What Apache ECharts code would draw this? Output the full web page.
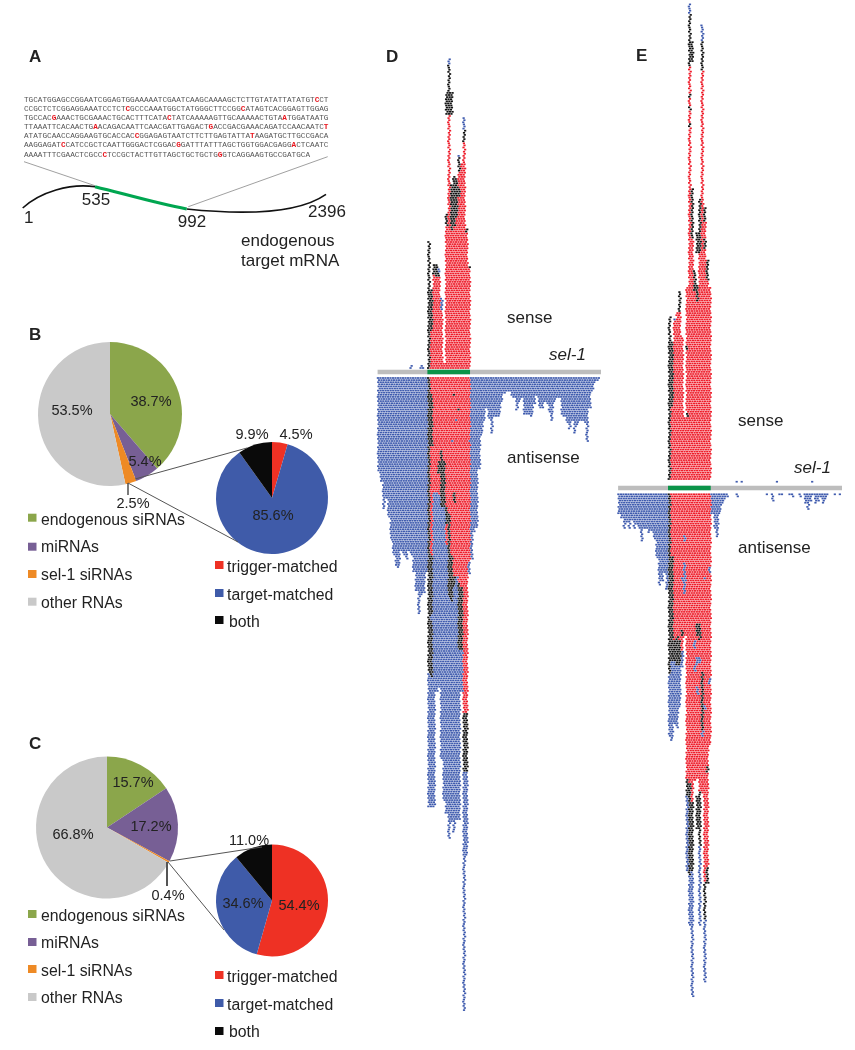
<!DOCTYPE html>
<html><head><meta charset="utf-8">
<style>html,body{margin:0;padding:0;background:#fff}#c{width:855px;height:1050px}</style>
<script src="https://cdn.jsdelivr.net/npm/echarts@6/dist/echarts.min.js"></script>
</head><body><div id="c"></div>
<script>
// ---------- pies ----------
const rnaNames = ['endogenous siRNAs','miRNAs','sel-1 siRNAs','other RNAs'];
const siNames = ['trigger-matched','target-matched','both'];
const bMain = [38.7,5.4,2.5,53.5];
const bSub = [4.5,85.6,9.9];
const cMain = [15.7,17.2,0.4,66.8];
const cSub = [54.4,34.6,11.0];
const rnaColors = ['#8BA64B','#775F95','#EE8A25','#C9C9C9'];
const siColors = ['#EE3124','#3F5BA9','#0A0A0A'];
// ---------- panel A ----------
const seqLines = [
'TGCATGGAGCCGGAATCGGAGTGGAAAAATCGAATCAAGCAAAAGCTCTTGTATATTATATGT[C]CT',
'CCGCTCTCGGAGGAAATCCTCT[C]GCCCAAATGGCTATGGGCTTCCGG[C]ATAGTCACGGAGTTGGAG',
'TGCCAC[G]AAACTGCGAAACTGCACTTTCATA[C]TATCAAAAAGTTGCAAAAACTGTA[A]TGGATAATG',
'TTAAATTCACAACTG[A]ACAGACAATTCAACGATTGAGACT[G]ACCGACGAAACAGATCCAACAATC[T]',
'ATATGCAACCAGGAAGTGCACCAC[C]GGAGAGTAATCTTCTTGAGTATTA[T]AAGATGCTTGCCGACA',
'AAGGAGAT[C]CATCCGCTCAATTGGGACTCGGAC[G]GATTTATTTAGCTGGTGGACGAGG[A]CTCAATC',
'AAAATTTCGAACTCGCC[C]TCCGCTACTTGTTAGCTGCTGCTG[G]GTCAGGAAGTGCCGATGCA'];
const seqY = [100,109,118,127.3,136.3,145.3,155];
// ---------- read stacks: column index, then (kind,count) runs outward from the gene bar ----------
// kind: 0 trigger (red), 1 both (black), 2 target (blue), 3 empty gap
const geneLength = 2396, targetStart = 535, targetEnd = 992, columnCount = 89;
const dSense = [
[13,2,2],[17,2,2],[18,2,1],[20,1,61],[21,0,18,1,20],[22,0,45,1,5],[23,0,44,1,6],[24,0,44,1,2,2,2],[25,0,28,2,6],[26,0,3],
[27,0,68,1,6,3,47,1,11],[28,0,121,1,24,2,3],[29,0,66,1,22,3,33,1,11],[30,0,68,1,24],[31,0,72,1,19],[32,0,82,1,4,0,8,1,7,2,1],
[33,0,98],[34,0,108,1,6,2,6],[35,0,65,1,2],[36,0,48,1,1]];
const dAntiLeft = [45,50,63,58,67,78,85,90,91,83,85,87,83,85,93,102,113,104,103,93];
const dAntiCentre = [
[20,1,141,2,64],[21,0,8,1,25,0,52,1,28,2,3,1,27,2,62],[22,0,55,2,150],[23,0,55,2,95],[24,0,40,1,6,0,10,2,92],
[25,0,35,1,27,2,120],[26,0,40,1,22,2,140],[27,0,62,1,8,0,10,2,128],[28,0,65,1,40,2,115],[29,0,30,2,1,0,54,1,22,2,105],
[30,0,8,1,1,0,46,1,5,0,35,1,5,2,117],[31,0,20,2,1,0,74,2,116],[32,0,15,1,1,0,82,1,32,2,81],[33,0,100,1,30,2,20],
[34,0,160,1,28,2,114],[35,0,160,1,28,2,40],[36,0,30,2,1,0,57,2,6]];
const dAntiRight = [87,74,72,44,28,21,15,20,27,19,19,19,12,8,7,7,9,10,16,12,10,18,18,18,19,13,9,15,15,12,13,17,21,12,10,10,18,19,22,25,21,27,23,21,21,22,31,15,7,3,2,1];
const eSense = [
[20,1,78],[21,0,35,1,31],[22,0,76,2,1],[23,0,80],[24,0,80,1,10],[25,0,68],[26,0,30],[27,0,30,1,2,0,30,1,2,0,28],
[28,0,168,1,2,0,6,1,2,0,4,1,2,0,13,1,25,2,5],[29,0,115,1,24,3,60,1,10],[30,0,90,1,10],[31,0,85,1,8,3,15,1,10],
[32,0,108,1,26],[33,0,195,1,14,2,8],[34,0,110,1,5,0,8,1,7],[35,0,95,1,10],[36,0,92]];
const eSenseLoose = [47,49,63,77];
const eAntiLeft = [10,12,17,14,17,13,17,15,17,23,17,17,19,18,22,31,44,42,38,46];
const eAntiCentre = [
[20,1,86,2,30],[21,0,30,1,50,2,38],[22,0,70,1,10,2,30],[23,0,68,1,14,2,30],[24,0,70,1,12,2,20],[25,0,40,2,2,0,23,1,3,0,7,2,8],
[26,0,20,2,3,0,10,2,15,0,20],[27,0,136,1,8,2,36],[28,0,138,1,44,2,24],[29,0,147,1,33,2,60],[30,0,70,2,4,0,8,2,3,0,52],
[31,0,62,1,6,0,10,2,4,0,10,2,4,0,40,3,8,1,16],[32,0,62,1,8,0,8,2,3,0,9,0,52,1,26,2,38],[33,0,85,1,28,2,3,0,27],[34,0,40,2,1,0,60,2,2,0,82,1,18,2,30],
[35,0,130,1,3,0,45,1,8],[36,0,35,2,3,0,50,2,3,0,29]];
const eAntiRight = [10,17,21,10,5,3,2,0,0,0,2,0,0,0,0,0,0,0,0,0,0,0,1,0,4,0,0,1,1,0,0,1,2,0,0,2,0,5,8,4,1,5,4,2,5,3,1,0,0,1,0,1];
const kindColors = ['#EE1C2A','#111111','#3F5BAE'];
const kindNames = ['trigger-matched','both','target-matched'];
const geneColors = ['#BDBDBD','#0B9449'];
const rowStagger = [0,0.45,0.15,0.6,0.3,0.75,0.1,0.5,0.25];

// layout constants (pixels)
const rowPitch = 2.1;
const panels = [
 {id:'D',left:377.5,width:223.5,barY:372,senseBase:368,antiBase:378,
  sense:dSense,loose:[],antiLeft:dAntiLeft,antiCentre:dAntiCentre,antiRight:dAntiRight},
 {id:'E',left:618,width:224,barY:488,senseBase:479,antiBase:494.3,
  sense:eSense,loose:eSenseLoose,antiLeft:eAntiLeft,antiCentre:eAntiCentre,antiRight:eAntiRight}];

function colX(c,row){const w=geneLength/columnCount;return (c+0.15+rowStagger[row%rowStagger.length])*w;}
function stack(list,base,dir,out){
  list.forEach(r=>{let row=0;
    for(let i=1;i<r.length;i+=2){
      for(let n=0;n<r[i+1];n++,row++){
        if(r[i]!==3) out[r[i]].push([colX(r[0],row),base+dir*row]);
      }
    }});
}
const series=[],grids=[],xAxes=[],yAxes=[];
panels.forEach((p,pi)=>{
  grids.push({left:p.left,width:p.width,top:0,height:1050});
  xAxes.push({type:'value',gridIndex:pi,min:0,max:geneLength,show:false});
  yAxes.push({type:'value',gridIndex:pi,min:-(1050-p.barY)/rowPitch,max:p.barY/rowPitch,show:false});
  const sBase=(p.barY-p.senseBase)/rowPitch, aBase=-(p.antiBase-p.barY)/rowPitch;
  const pts=[[],[],[]];
  stack(p.sense,sBase,1,pts);
  p.loose.forEach(c=>pts[2].push([colX(c,0),sBase-1.3]));
  stack(p.antiCentre,aBase,-1,pts);
  p.antiLeft.forEach((d,c)=>stack([[c,2,d]],aBase,-1,pts));
  p.antiRight.forEach((d,i)=>stack([[37+i,2,d]],aBase,-1,pts));
  pts.forEach((data,k)=>series.push({type:'scatter',name:p.id+' '+kindNames[k],xAxisIndex:pi,yAxisIndex:pi,data,
    symbol:'rect',symbolSize:[2.2,1.7],itemStyle:{color:kindColors[k],opacity:1},silent:true,animation:false,progressive:0,large:false,z:2}));
  series.push({type:'custom',name:p.id+' sel-1',xAxisIndex:pi,yAxisIndex:pi,silent:true,animation:false,z:1,progressive:0,
    data:[[1,geneLength],[targetStart,targetEnd]],
    encode:{x:[0,1]},
    renderItem:(params,api)=>{
      const a=api.coord([api.value(0),1.1]),b=api.coord([api.value(1),-1.1]);
      return {type:'rect',shape:{x:a[0],y:a[1],width:b[0]-a[0],height:b[1]-a[1]},style:{fill:geneColors[params.dataIndex]}};
    }});
});
function pie(name,vals,names,colors,cx,cy,r){
  series.push({type:'pie',name,center:[cx,cy],radius:[0,r],startAngle:90,clockwise:true,silent:true,animation:false,
    label:{show:false},labelLine:{show:false},z:1,
    data:vals.map((v,i)=>({name:names[i],value:v,itemStyle:{color:colors[i]}}))});
}
pie('B total',bMain,rnaNames,rnaColors,110,414,72);
pie('B sel-1',bSub,siNames,siColors,272,498,56);
pie('C total',cMain,rnaNames,rnaColors,107,827.5,71);
pie('C sel-1',cSub,siNames,siColors,272,900.5,56);

// ---------- graphics ----------
const FONT='"Liberation Sans",Arial,sans-serif';
const g=[];
function txt(text,x,y,size,o={}){
  g.push({type:'text',z:20,silent:true,x,y,style:{text,fill:o.fill||'#222',
    font:(o.style||'')+' '+(o.weight||'')+' '+size+'px '+FONT,
    textAlign:o.align||'left',textVerticalAlign:'middle'}});
}
function seg(x1,y1,x2,y2,color,w){g.push({type:'line',z:10,silent:true,shape:{x1,y1,x2,y2},style:{stroke:color,lineWidth:w}});}
function curve(x1,y1,cpx1,cpy1,cpx2,cpy2,x2,y2,color,w){
  g.push({type:'bezierCurve',z:10,silent:true,shape:{x1,y1,cpx1,cpy1,cpx2,cpy2,x2,y2},style:{stroke:color,lineWidth:w,fill:null}});}
function sq(x,y,c){g.push({type:'rect',z:10,silent:true,shape:{x,y:y-4,width:8.5,height:8},style:{fill:c}});}
// panel letters
[['A',29,57],['B',29,335],['C',29,744],['D',386,57],['E',636,56]].forEach(a=>txt(a[0],a[1],a[2],17,{weight:'bold'}));
// sequence
seqLines.forEach((l,i)=>{
  g.push({type:'text',z:20,silent:true,x:24,y:seqY[i],style:{
    text:l.replace(/\[(.)\]/g,'{r|$1}'),fill:'#555',font:'7.7px "Liberation Mono",monospace',textVerticalAlign:'middle',
    rich:{r:{fill:'#E8141C',font:'bold 7.7px "Liberation Mono",monospace'}}}});
});
seg(24,161.7,95,185.7,'#888',0.8);seg(327.7,156.7,188.3,206.7,'#888',0.8);
curve(22.7,208,40,192,70,183,95,186.7,'#111',1.6);
curve(186.7,209,235,214,295,216,326,194.3,'#111',1.6);
curve(95,186.7,125,194,155,203,186.7,209,'#00A650',3.2);
txt('1',24,218,17);txt('535',96,200,17,{align:'center'});txt('992',192,222,17,{align:'center'});txt('2396',327,212,17,{align:'center'});
txt('endogenous',241,241,17);txt('target mRNA',241,261,17);
// pie labels
const pct=v=>v.toFixed(1)+'%';
txt(pct(bMain[0]),151,402,14.5,{align:'center'});txt(pct(bMain[1]),145,462,14.5,{align:'center'});
txt(pct(bMain[2]),133,504,14.5,{align:'center'});txt(pct(bMain[3]),72,411,14.5,{align:'center'});
txt(pct(bSub[0]),296,435,14.5,{align:'center'});txt(pct(bSub[1]),273,516,14.5,{align:'center'});txt(pct(bSub[2]),252,435,14.5,{align:'center'});
txt(pct(cMain[0]),133,783,14.5,{align:'center'});txt(pct(cMain[1]),151,827,14.5,{align:'center'});
txt(pct(cMain[2]),168,896,14.5,{align:'center'});txt(pct(cMain[3]),73,835,14.5,{align:'center'});
txt(pct(cSub[0]),299,906,14.5,{align:'center'});txt(pct(cSub[1]),243,904,14.5,{align:'center'});txt(pct(cSub[2]),249,841,14.5,{align:'center'});
// connectors
seg(128,483,128,495,'#222',1.2);seg(135,479,247,448,'#555',1);seg(128,483,238,542,'#555',1);
seg(167,862,167,886,'#555',2);seg(170,861,262,847,'#555',1);seg(168,862,224,930,'#555',1);
// legends
const lgL=(sqY,tY)=>rnaNames.forEach((n,i)=>{sq(28,sqY[i],rnaColors[i]);txt(n,41,tY[i],15.8);});
lgL([517.7,546.7,574,601.7],[521,548,576,604]);
lgL([914,942,969,997],[917,944,972,999]);
const lgR=(sqY,tY)=>siNames.forEach((n,i)=>{sq(215,sqY[i],siColors[i]);txt(n,i==2?229:227,tY[i],15.8);});
lgR([565,593,620],[568,596,623]);
lgR([975,1003,1031],[978,1006,1033]);
// read panel labels
txt('sense',507,318,17);txt('sel-1',549,355,17,{style:'italic'});txt('antisense',507,458,17);
txt('sense',738,421,17);txt('sel-1',794,468,17,{style:'italic'});txt('antisense',738,548,17);

const chart=echarts.init(document.getElementById('c'),null,{renderer:'canvas'});
chart.setOption({animation:false,backgroundColor:'#fff',tooltip:{show:false},grid:grids,xAxis:xAxes,yAxis:yAxes,series,graphic:{z:100,elements:g}});
</script></body></html>
